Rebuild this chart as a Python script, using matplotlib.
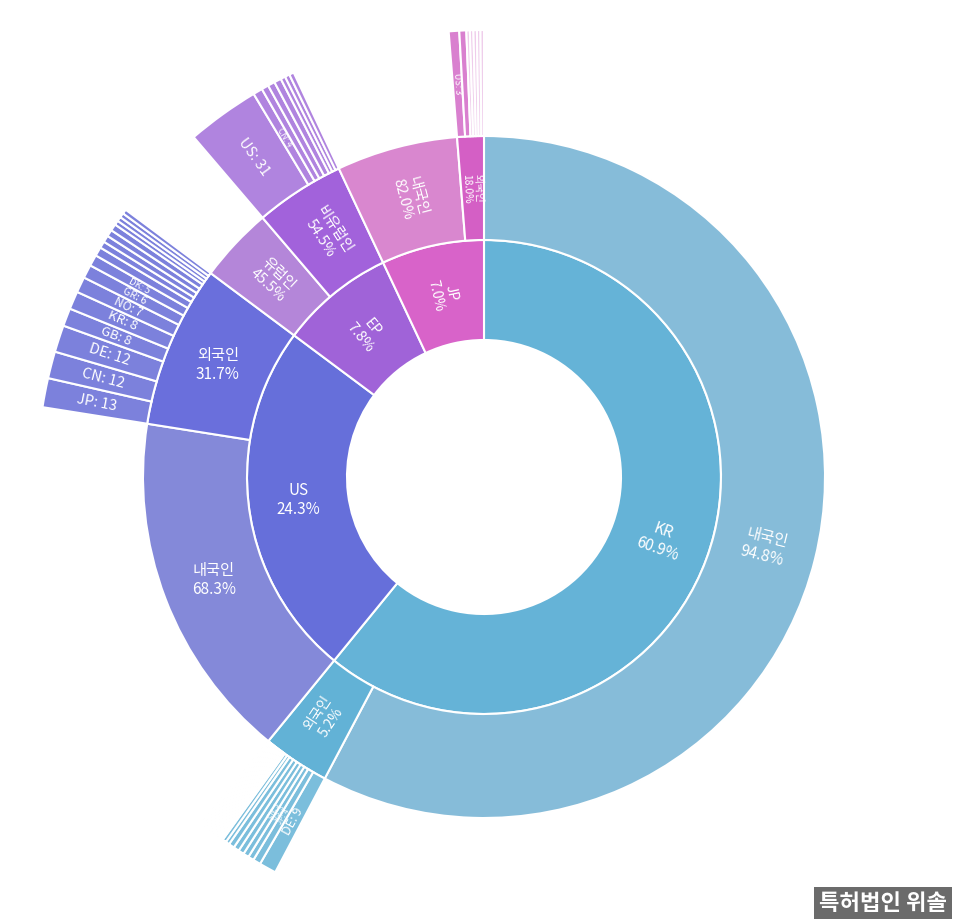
import numpy as np
import matplotlib.pyplot as plt
from matplotlib.colors import to_rgba

plt.rcParams['font.family'] = ['Noto Sans CJK KR', 'DejaVu Sans']

# Level 1: office share of filings (%)
offices = ["KR", "US", "EP", "JP"]
office_pct = [60.9, 24.3, 7.8, 7.0]

# Level 2: applicant group inside each office (% of parent)
group_names = [["내국인", "외국인"], ["내국인", "외국인"], ["유럽인", "비유럽인"], ["내국인", "외국인"]]
group_pct = [[94.8, 5.2], [68.3, 31.7], [45.5, 54.5], [82.0, 18.0]]

# Level 3: country counts of the foreign group of each office
kr_foreign_names = ["DE", "JP", "US", "CN"] + [""] * 19
kr_foreign_counts = [9, 4, 3, 3, 3, 3, 3, 2, 2, 1, 1, 1, 1, 1, 1, 1, 1, 1, 1, 1, 1, 1, 1]
us_foreign_names = ["JP", "CN", "DE", "GB", "KR", "NO", "GR", "DK"] + [""] * 9
us_foreign_counts = [13, 12, 12, 8, 8, 7, 6, 5, 4, 3, 3, 3, 3, 2, 2, 2, 2]
ep_foreign_names = ["US", "CN"] + [""] * 6
ep_foreign_counts = [31, 4, 3, 3, 3, 2, 2, 2]
jp_foreign_names = ["US"] + [""] * 6
jp_foreign_counts = [3, 2, 1, 1, 1, 1, 1]

leaf_names = [kr_foreign_names, us_foreign_names, ep_foreign_names, jp_foreign_names]
leaf_counts = [kr_foreign_counts, us_foreign_counts, ep_foreign_counts, jp_foreign_counts]

# colours
office_colors = ["#65b3d7", "#666fda", "#a063d8", "#d863c9"]
group_colors = [["#86bcd9", "#62b2d6"], ["#8489d9", "#6a6fdc"],
                ["#b486d9", "#a262db"], ["#d987cf", "#d45fc5"]]
leaf_colors = ["#7bbedc", "#7c81dc", "#b084df", "#d980cf"]

# ring radii (axis units = pixels)
R = 460
r0, r1, r2, r3 = 137, 237, 341, 447

fig = plt.figure(figsize=(9.66, 9.22), dpi=100)
ax = fig.add_axes([(484 - R) / 966, (445 - R) / 922, 2 * R / 966, 2 * R / 922],
                  projection='polar')
ax.set_theta_zero_location('N')
ax.set_theta_direction(-1)
ax.set_ylim(0, R)
ax.axis('off')


def wedge(t0, dt, r_in, r_out, color, alpha=1.0):
    ax.bar(np.deg2rad(t0), r_out - r_in, width=np.deg2rad(dt), bottom=r_in,
           align='edge', facecolor=to_rgba(color, alpha), edgecolor='white',
           linewidth=1.5)


def label(text, t_mid, r, size, horizontal=False):
    rot = 0 if horizontal else ((90 - t_mid + 90) % 180) - 90
    ax.text(np.deg2rad(t_mid), r, text, rotation=rot, rotation_mode='anchor',
            ha='center', va='center', ma='center', color='white',
            fontsize=size, linespacing=1.15)


ring1_sizes = [11, 11, 10.5, 10]
ring2_sizes = [[11, 10], [11, 11], [10.5, 10.5], [10.5, 7.5]]

start = 0.0
for i, office in enumerate(offices):
    span = office_pct[i] / 100 * 360
    wedge(start, span, r0, r1, office_colors[i])
    label(f"{office}\n{office_pct[i]:.1f}%", start + span / 2, (r0 + r1) / 2,
          ring1_sizes[i], horizontal=(office == "US"))

    g_start = start
    for j, name in enumerate(group_names[i]):
        g_span = group_pct[i][j] / 100 * span
        wedge(g_start, g_span, r1, r2, group_colors[i][j])
        label(f"{name}\n{group_pct[i][j]:.1f}%", g_start + g_span / 2,
              (r1 + r2) / 2, ring2_sizes[i][j], horizontal=(office == "US"))

        if j == 1:
            counts = leaf_counts[i]
            total = sum(counts)
            l_start = g_start
            for name3, c in zip(leaf_names[i], counts):
                l_span = c / total * g_span
                alpha = 1.0 if c >= 2 else 0.4
                wedge(l_start, l_span, r2, r3, leaf_colors[i], alpha)
                if name3:
                    arc_pt = np.deg2rad(l_span) * (r2 + r3) / 2 * 0.72
                    size = min(10.5, max(5, 0.6 * arc_pt + 2.5))
                    label(f"{name3}: {c}", l_start + l_span / 2,
                          (r2 + r3) / 2, size)
                l_start += l_span
        g_start += g_span
    start += span

fig.text(883 / 966, 1 - 903 / 922, "특허법인 위솔", ha='center', va='center',
         color='white', fontsize=16, fontweight='bold',
         bbox=dict(facecolor='#6b6b6b', edgecolor='none', boxstyle='square,pad=0.22'))

fig.savefig("out.png", dpi=100)
